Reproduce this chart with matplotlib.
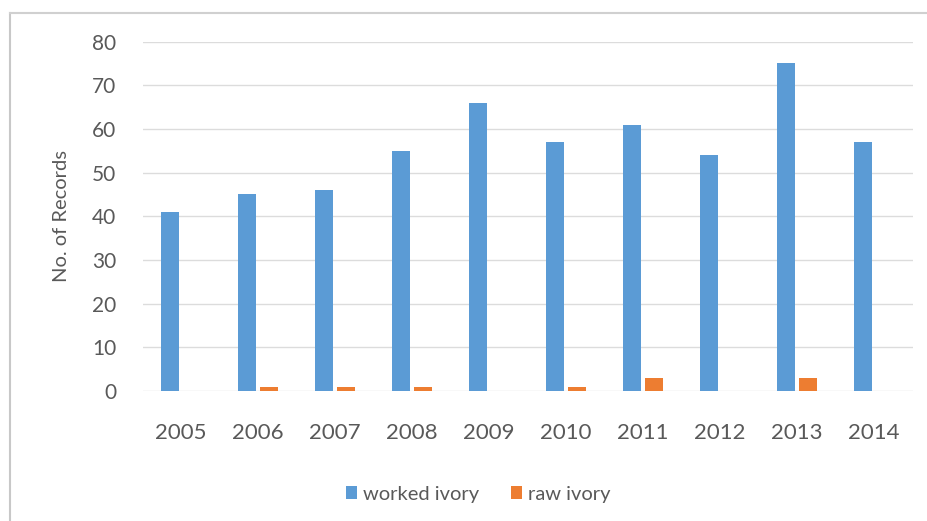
import matplotlib
matplotlib.use("Agg")
import matplotlib.pyplot as plt
from matplotlib.lines import Line2D
import numpy as np

years = ["2005", "2006", "2007", "2008", "2009", "2010", "2011", "2012", "2013", "2014"]
worked_ivory = [41, 45, 46, 55, 66, 57, 61, 54, 75, 57]
raw_ivory = [0, 1, 1, 1, 0, 1, 3, 0, 3, 0]
series_names = ["worked ivory", "raw ivory"]
yticks = [0, 10, 20, 30, 40, 50, 60, 70, 80]

plt.rcParams['font.family'] = ['Lato', 'DejaVu Sans']
text_color = "#595959"

fig = plt.figure(figsize=(9.28, 5.21), dpi=100)
fig.patch.set_facecolor("white")
ax = fig.add_axes([0.1536, 0.2495, 0.8297, 0.6708])

x = np.arange(len(years))
w = 0.234
off = 0.137
ax.bar(x - off, worked_ivory, width=w, color="#5B9BD5", label=series_names[0], zorder=3)
ax.bar(x + off, raw_ivory, width=w, color="#ED7D31", label=series_names[1], zorder=3)

ax.set_xlim(-0.5, len(years) - 0.5)
ax.set_ylim(0, 80)
ax.set_yticks(yticks)
ax.set_yticklabels([str(v) for v in yticks])
ax.set_xticks(x)
ax.set_xticklabels(years)
ax.tick_params(axis='y', length=0, labelsize=15, colors=text_color, pad=19)
ax.tick_params(axis='x', length=0, labelsize=16, colors=text_color, pad=23)
ax.grid(axis='y', color="#dcdcdc", linewidth=1, zorder=0)
for s in ax.spines.values():
    s.set_visible(False)
ax.set_ylabel("No. of Records", fontsize=14.5, color=text_color, labelpad=16)

ax.legend(loc='center', bbox_to_anchor=(0.436, -0.295), bbox_transform=ax.transAxes,
          ncol=2, frameon=False, fontsize=14.5, labelcolor=text_color,
          handlelength=0.55, handleheight=0.55, handletextpad=0.3, columnspacing=1.6)

# chart-area border (top and left edges)
fig.add_artist(Line2D([10.5/928, 10.5/928], [0, 1 - 12.5/521], color="#c8c8c8", linewidth=1.5, transform=fig.transFigure))
fig.add_artist(Line2D([10.5/928, 1], [1 - 12.5/521, 1 - 12.5/521], color="#d0d0d0", linewidth=1.5, transform=fig.transFigure))

fig.savefig("out.png", dpi=100, facecolor="white")
